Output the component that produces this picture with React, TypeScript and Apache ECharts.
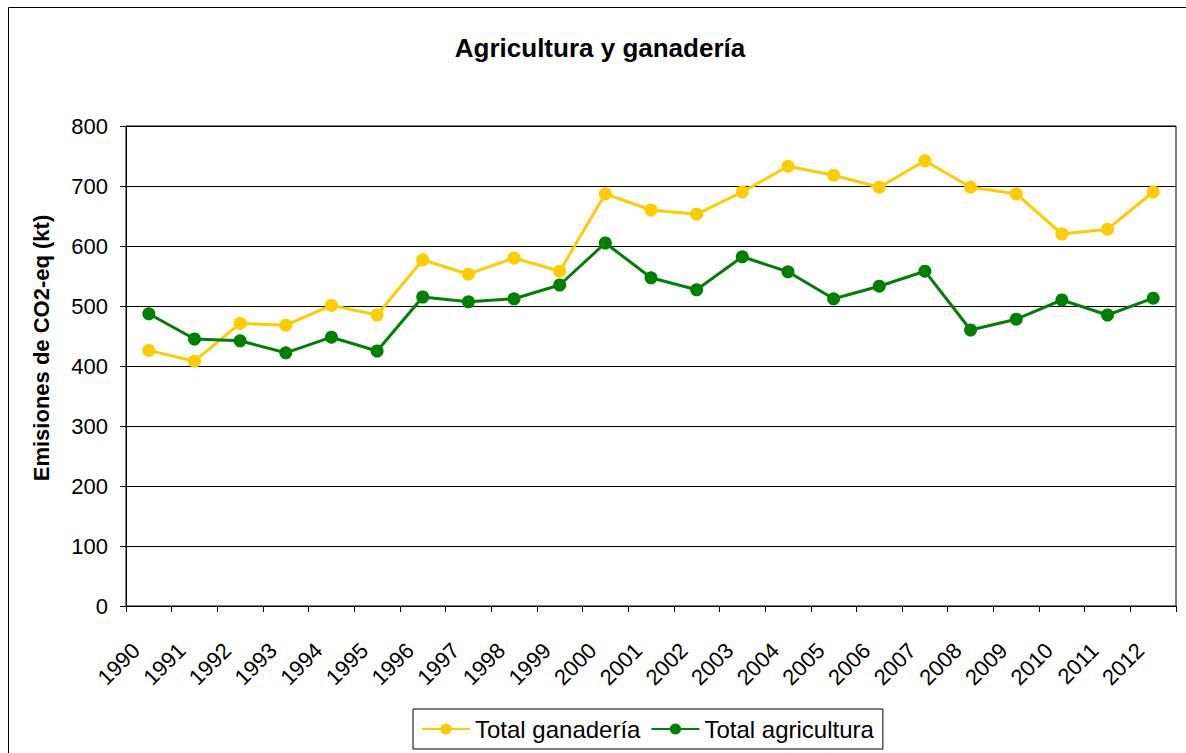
import React, { useEffect, useRef } from "react";
import * as echarts from "echarts";

const years = ["1990","1991","1992","1993","1994","1995","1996","1997","1998","1999","2000","2001","2002","2003","2004","2005","2006","2007","2008","2009","2010","2011","2012"];
const ganaderia = [426, 408, 471, 468, 501, 485, 577, 553, 580, 558, 687, 660, 653, 690, 733, 718, 698, 742, 698, 687, 620, 628, 690];
const agricultura = [487, 445, 442, 422, 448, 425, 515, 507, 512, 535, 605, 547, 527, 582, 557, 512, 533, 558, 460, 478, 510, 485, 513];
const yTicks = { min: 0, max: 800, interval: 100 };
const titleText = "Agricultura y ganadería";
const yAxisTitle = "Emisiones de CO2-eq (kt)";

export default function App() {
  const ref = useRef<HTMLDivElement>(null);
  useEffect(() => {
    if (!ref.current) return;
    const chart = echarts.init(ref.current, undefined, { renderer: "svg" });
    const font = "'Liberation Sans', Arial, sans-serif";
    chart.setOption({
      animation: false,
      backgroundColor: "#ffffff",
      textStyle: { fontFamily: font },
      graphic: [
        {
          type: "rect",
          shape: { x: 8.5, y: 7.5, width: 1200, height: 800 },
          style: { fill: "none", stroke: "#000", lineWidth: 1 },
          silent: true,
        },
        {
          type: "text",
          x: 600,
          y: 48,
          style: {
            text: titleText,
            fontFamily: font,
            fontSize: 26,
            fontWeight: "bold",
            fill: "#000",
            align: "center",
            verticalAlign: "middle",
          },
        },
        {
          type: "text",
          x: 41,
          y: 348,
          rotation: Math.PI / 2,
          style: {
            text: yAxisTitle,
            fontFamily: font,
            fontSize: 22,
            fontWeight: "bold",
            fill: "#000",
            align: "center",
            verticalAlign: "middle",
          },
        },
      ],
      grid: {
        left: 126,
        right: 10,
        top: 126,
        bottom: 147,
        show: true,
        borderColor: "#000",
        borderWidth: 1,
        backgroundColor: "transparent",
      },
      legend: {
        left: 413,
        top: 709,
        padding: [8, 9, 8, 8],
        itemGap: 10,
        itemWidth: 48,
        itemHeight: 14,
        borderColor: "#000",
        borderWidth: 1,
        textStyle: { fontFamily: font, fontSize: 24, color: "#000" },
        data: ["Total ganadería", "Total agricultura"],
      },
      xAxis: {
        type: "category",
        data: years,
        boundaryGap: true,
        axisLine: { show: true, lineStyle: { color: "#000", width: 1 } },
        axisTick: { show: true, length: 6, lineStyle: { color: "#000" } },
        axisLabel: {
          rotate: 45,
          fontSize: 22,
          color: "#000",
          margin: 28,
          padding: [0, 18, 0, 0],
          fontFamily: font,
          interval: 0,
        },
      },
      yAxis: {
        type: "value",
        min: yTicks.min,
        max: yTicks.max,
        interval: yTicks.interval,
        axisLine: { show: true, lineStyle: { color: "#000", width: 1 } },
        axisTick: { show: true, length: 6, lineStyle: { color: "#000" } },
        axisLabel: { fontSize: 22, color: "#000", margin: 18, fontFamily: font },
        splitLine: { show: true, lineStyle: { color: "#000", width: 1 } },
      },
      series: [
        {
          name: "Total ganadería",
          type: "line",
          data: ganaderia,
          symbol: "circle",
          symbolSize: 13,
          lineStyle: { color: "#FFCC00", width: 3 },
          itemStyle: { color: "#FFCC00" },
        },
        {
          name: "Total agricultura",
          type: "line",
          data: agricultura,
          symbol: "circle",
          symbolSize: 13,
          lineStyle: { color: "#008000", width: 3 },
          itemStyle: { color: "#008000" },
        },
      ],
    });
    return () => chart.dispose();
  }, []);
  return (
    <div
      ref={ref}
      style={{ position: "fixed", left: 0, top: 0, width: 1186, height: 753 }}
    />
  );
}
